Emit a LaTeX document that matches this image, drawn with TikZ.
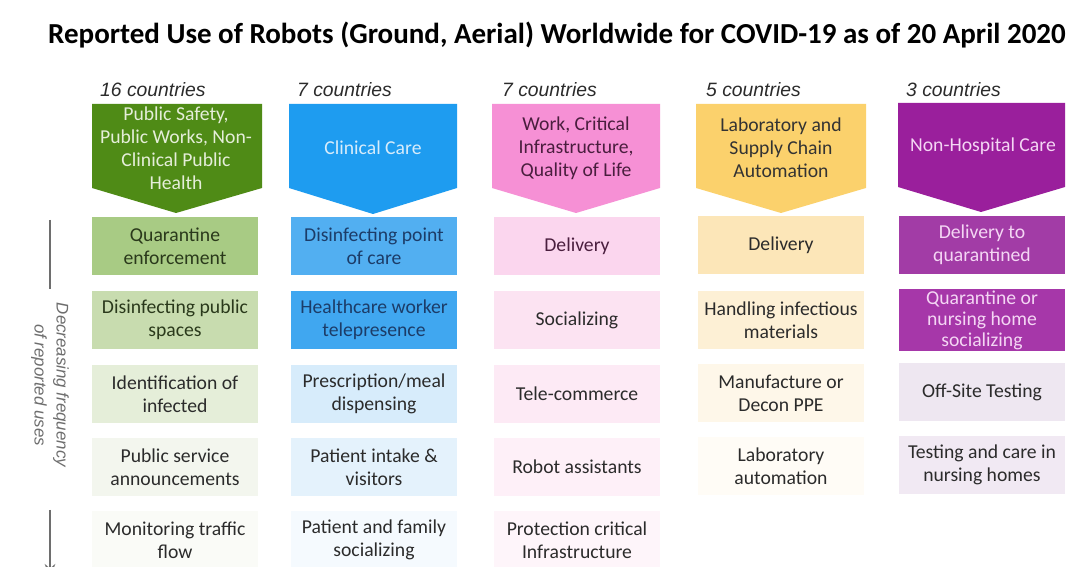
\documentclass[tikz,border=0pt]{standalone}
\usepackage{fontspec}
\setmainfont{Carlito}
\newfontfamily\arialfont{Liberation Sans}
\usepackage{xcolor}
\usepackage{tikz}
\usetikzlibrary{arrows.meta}

% column colours
\definecolor{grnhead}{HTML}{4F8B16}
\definecolor{grnA}{HTML}{A8CB84}
\definecolor{grnB}{HTML}{C8DCAF}
\definecolor{grnC}{HTML}{E5EED9}
\definecolor{grnD}{HTML}{F3F6EE}
\definecolor{grnE}{HTML}{FAFBF7}
\definecolor{bluhead}{HTML}{1E9CF0}
\definecolor{bluA}{HTML}{52AFF1}
\definecolor{bluB}{HTML}{40A7F0}
\definecolor{bluC}{HTML}{D7ECFB}
\definecolor{bluD}{HTML}{E4F2FC}
\definecolor{bluE}{HTML}{F5FAFE}
\definecolor{pnkhead}{HTML}{F690D5}
\definecolor{pnkA}{HTML}{FBD6EE}
\definecolor{pnkB}{HTML}{FCE3F2}
\definecolor{pnkC}{HTML}{FDEAF5}
\definecolor{pnkD}{HTML}{FEF0F8}
\definecolor{pnkE}{HTML}{FEF5FA}
\definecolor{yelhead}{HTML}{FBD16C}
\definecolor{yelA}{HTML}{FCE6B8}
\definecolor{yelB}{HTML}{FDF0D5}
\definecolor{yelC}{HTML}{FEF7E9}
\definecolor{yelD}{HTML}{FFFCF6}
\definecolor{purhead}{HTML}{9A1F9C}
\definecolor{purA}{HTML}{A23CA6}
\definecolor{purB}{HTML}{A637A9}
\definecolor{purC}{HTML}{EEE7F1}
\definecolor{purD}{HTML}{F1E9F3}
\definecolor{darktxt}{HTML}{2B2B2B}
\definecolor{grntxt}{HTML}{2A391B}
\definecolor{blutxt}{HTML}{1C3C68}
\definecolor{pnktxt}{HTML}{4A1E3E}
\definecolor{lighttxt}{HTML}{F4D6F4}
\definecolor{axisgray}{HTML}{6E6E6E}

\begin{document}
\begin{tikzpicture}[x=0.02cm,y=-0.02cm,
  cell/.style={minimum width=3.34cm,minimum height=1.18cm,align=center,inner sep=1pt,
    text=darktxt,font=\fontsize{11.2}{13}\selectfont},
  head/.style={align=center,font=\fontsize{11.2}{13}\selectfont},
  count/.style={anchor=west,text=darktxt,font=\arialfont\itshape\fontsize{11}{13}\selectfont}]
  \useasboundingbox[fill=white] (0,0) rectangle (1080,567);

  % title
  \node[font=\bfseries\fontsize{16.5}{19}\selectfont] (title) at (557,35)
    {Reported Use of Robots (Ground, Aerial) Worldwide for COVID-19 as of 20 April 2020};

  % country counts
  \node[count] (n1) at (94,90) {16 countries};
  \node[count] (n2) at (291,90) {7 countries};
  \node[count] (n3) at (496,90) {7 countries};
  \node[count] (n4) at (700,90) {5 countries};
  \node[count] (n5) at (900,90) {3 countries};

  % header arrows
  \fill[grnhead] (92,104) -- (262,104) -- (262,188) -- (176,213) -- (92,188) -- cycle;
  \fill[bluhead] (289,104) -- (457,104) -- (457,188) -- (373,214) -- (289,188) -- cycle;
  \fill[pnkhead] (492,104) -- (660,104) -- (660,188) -- (576,213) -- (492,188) -- cycle;
  \fill[yelhead] (696,104) -- (866,104) -- (866,188) -- (781,213) -- (696,188) -- cycle;
  \fill[purhead] (898,103) -- (1065,103) -- (1065,187) -- (981,212) -- (898,187) -- cycle;
  \node[head,text=grnC] (h1) at (176,148) {Public Safety,\\Public Works, Non-\\Clinical Public\\Health};
  \node[head,text=bluC] (h2) at (373,148) {Clinical Care};
  \node[head,text=pnktxt] (h3) at (576,148) {Work, Critical\\Infrastructure,\\Quality of Life};
  \node[head,text=black!80] (h4) at (781,148) {Laboratory and\\Supply Chain\\Automation};
  \node[head,text=lighttxt] (h5) at (983,146) {Non-Hospital Care};

  % public safety column
  \node[cell,fill=grnA,text=grntxt] (a1) at (175,246) {Quarantine\\enforcement};
  \node[cell,fill=grnB,text=grntxt] (a2) at (175,320) {Disinfecting public\\spaces};
  \node[cell,fill=grnC] (a3) at (175,394) {Identification of\\infected};
  \node[cell,fill=grnD] (a4) at (175,467) {Public service\\announcements};
  \node[cell,fill=grnE] (a5) at (175,540) {Monitoring traffic\\flow};

  % clinical care column
  \node[cell,fill=bluA,text=blutxt] (b1) at (374,246) {Disinfecting point\\of care};
  \node[cell,fill=bluB,text=blutxt] (b2) at (374,320) {Healthcare worker\\telepresence};
  \node[cell,fill=bluC] (b3) at (374,394) {Prescription/meal\\dispensing};
  \node[cell,fill=bluD] (b4) at (374,467) {Patient intake \&\\visitors};
  \node[cell,fill=bluE] (b5) at (374,540) {Patient and family\\socializing};

  % work column
  \node[cell,fill=pnkA,text=pnktxt] (c1) at (577,246) {Delivery};
  \node[cell,fill=pnkB] (c2) at (577,320) {Socializing};
  \node[cell,fill=pnkC] (c3) at (577,394) {Tele-commerce};
  \node[cell,fill=pnkD] (c4) at (577,467) {Robot assistants};
  \node[cell,fill=pnkE] (c5) at (577,540) {Protection critical\\Infrastructure};

  % laboratory column
  \node[cell,fill=yelA] (d1) at (781,245) {Delivery};
  \node[cell,fill=yelB] (d2) at (781,320) {Handling infectious\\materials};
  \node[cell,fill=yelC] (d3) at (781,393) {Manufacture or\\Decon PPE};
  \node[cell,fill=yelD] (d4) at (781,466) {Laboratory\\automation};

  % non-hospital column
  \node[cell,fill=purA,text=lighttxt] (e1) at (982,245) {Delivery to\\quarantined};
  \node[cell,fill=purB,text=lighttxt,font=\fontsize{11.2}{12}\selectfont] (e2) at (982,320) {Quarantine or\\nursing home\\socializing};
  \node[cell,fill=purC] (e3) at (982,392) {Off-Site Testing};
  \node[cell,fill=purD] (e4) at (982,465) {Testing and care in\\nursing homes};

  % frequency axis
  \coordinate (ax1) at (50,220);
  \coordinate (ax2) at (50,289);
  \coordinate (ax3) at (50,510);
  \coordinate (ax4) at (50,578);
  \node[rotate=-90,align=center,text=axisgray,font=\arialfont\itshape\fontsize{9.6}{12.5}\selectfont] (freq) at (50,385)
    {Decreasing frequency\\of reported uses};
  \draw[axisgray,line width=1.1pt] (ax1) -- (ax2);
  \draw[axisgray,line width=1.1pt,-{Stealth[length=8pt,width=6pt]}] (ax3) -- (ax4);
\end{tikzpicture}
\end{document}
